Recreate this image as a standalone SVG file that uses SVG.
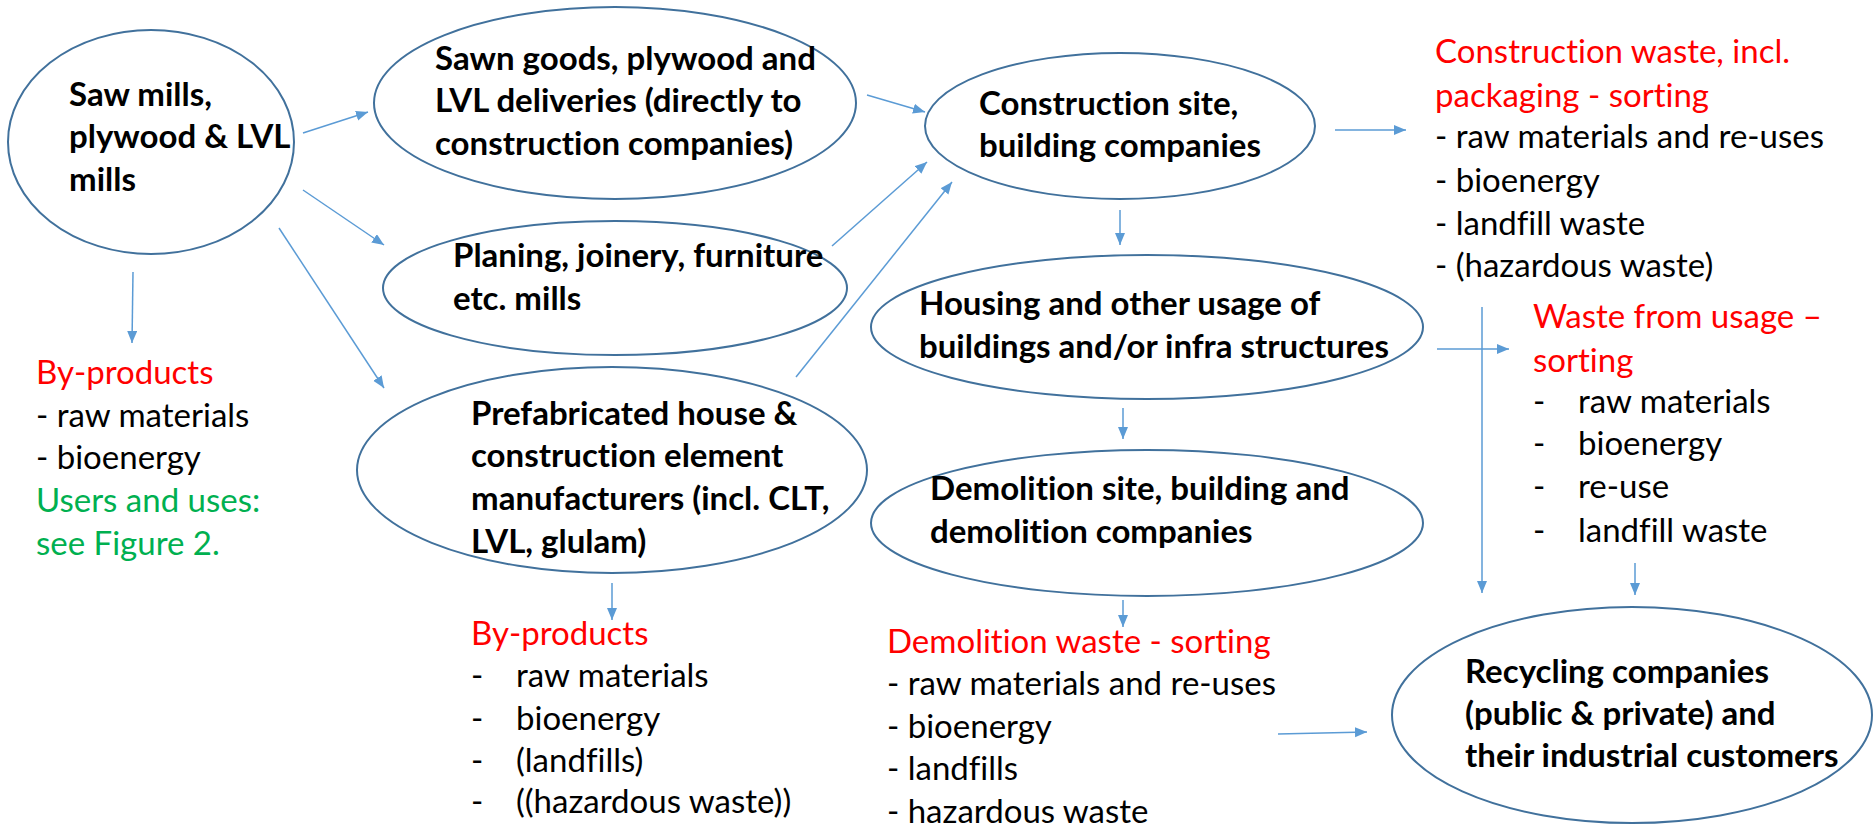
<svg xmlns="http://www.w3.org/2000/svg" width="1874" height="836" viewBox="0 0 1874 836">
<style>
.node{fill:#fff;stroke:#41719C;stroke-width:2}
.b,.t{font-family:Lato,"Open Sans",sans-serif;font-size:33px;fill:#000;font-variant-ligatures:none;font-feature-settings:"liga" 0,"dlig" 0,"clig" 0}
.b{font-weight:bold}
.r{fill:#FF0000}
.g{fill:#00B050}
.c line{stroke:#5B9BD5;stroke-width:1.5;marker-end:url(#ah)}
</style>
<defs>
<marker id="ah" markerUnits="userSpaceOnUse" markerWidth="13" markerHeight="11" refX="12" refY="5" orient="auto">
<path d="M0,0 L12,5 L0,10 z" fill="#5B9BD5"/>
</marker>
</defs>
<rect width="1874" height="836" fill="#fff"/>
<g id="connectors" class="c">
<line x1="303" y1="133" x2="368" y2="112"/>
<line x1="303" y1="190" x2="384" y2="245"/>
<line x1="279" y1="228" x2="384" y2="388"/>
<line x1="133" y1="272" x2="132" y2="343"/>
<line x1="867" y1="95" x2="925" y2="112"/>
<line x1="832" y1="246" x2="927" y2="162"/>
<line x1="796" y1="377" x2="952" y2="182"/>
<line x1="612" y1="583" x2="612" y2="620"/>
<line x1="1120" y1="210" x2="1120" y2="245"/>
<line x1="1335" y1="130" x2="1406" y2="130"/>
<line x1="1123" y1="408" x2="1123" y2="439"/>
<line x1="1123" y1="600" x2="1123" y2="627"/>
<line x1="1437" y1="349" x2="1509" y2="349"/>
<line x1="1482" y1="307" x2="1482" y2="593"/>
<line x1="1635" y1="563" x2="1635" y2="595"/>
<line x1="1278" y1="734" x2="1367" y2="732"/>
</g>
<g id="saw-mills">
<ellipse class="node" cx="151" cy="142" rx="143" ry="112"/>
<text class="b"><tspan x="69" y="106">Saw mills,</tspan><tspan x="69" y="148">plywood &amp; LVL</tspan><tspan x="69" y="191">mills</tspan></text>
</g>
<g id="sawn-goods">
<ellipse class="node" cx="615" cy="103" rx="241" ry="96"/>
<text class="b"><tspan x="435" y="70">Sawn goods, plywood and</tspan><tspan x="435" y="112">LVL deliveries (directly to</tspan><tspan x="435" y="155">construction companies)</tspan></text>
</g>
<g id="planing">
<ellipse class="node" cx="615" cy="288" rx="232" ry="67"/>
<text class="b"><tspan x="453" y="267">Planing, joinery, furniture</tspan><tspan x="453" y="310">etc. mills</tspan></text>
</g>
<g id="prefab">
<ellipse class="node" cx="612" cy="470" rx="255" ry="103"/>
<text class="b"><tspan x="471" y="425">Prefabricated house &amp;</tspan><tspan x="471" y="467">construction element</tspan><tspan x="471" y="510">manufacturers (incl. CLT,</tspan><tspan x="471" y="553">LVL, glulam)</tspan></text>
</g>
<g id="construction-site">
<ellipse class="node" cx="1120" cy="126" rx="195" ry="73"/>
<text class="b"><tspan x="979" y="115">Construction site,</tspan><tspan x="979" y="157">building companies</tspan></text>
</g>
<g id="housing">
<ellipse class="node" cx="1147" cy="327" rx="276" ry="72"/>
<text class="b"><tspan x="919" y="315">Housing and other usage of</tspan><tspan x="919" y="358">buildings and/or infra structures</tspan></text>
</g>
<g id="demolition">
<ellipse class="node" cx="1147" cy="523" rx="276" ry="73"/>
<text class="b"><tspan x="930" y="500">Demolition site, building and</tspan><tspan x="930" y="543">demolition companies</tspan></text>
</g>
<g id="recycling">
<ellipse class="node" cx="1632" cy="715" rx="240" ry="108"/>
<text class="b"><tspan x="1465" y="683">Recycling companies</tspan><tspan x="1465" y="725">(public &amp; private) and</tspan><tspan x="1465" y="767">their industrial customers</tspan></text>
</g>
<g id="byproducts-saw">
<text class="t"><tspan class="r" x="36" y="384">By-products</tspan><tspan x="36" y="427">- raw materials</tspan><tspan x="36" y="469">- bioenergy</tspan><tspan class="g" x="36" y="512">Users and uses:</tspan><tspan class="g" x="36" y="555">see Figure 2.</tspan></text>
</g>
<g id="byproducts-prefab">
<text class="t"><tspan class="r" x="471" y="645">By-products</tspan><tspan x="471" y="687">-</tspan><tspan x="516" y="687">raw materials</tspan><tspan x="471" y="730">-</tspan><tspan x="516" y="730">bioenergy</tspan><tspan x="471" y="772">-</tspan><tspan x="516" y="772">(landfills)</tspan><tspan x="471" y="813">-</tspan><tspan x="516" y="813">((hazardous waste))</tspan></text>
</g>
<g id="construction-waste">
<text class="t"><tspan class="r" x="1435" y="63">Construction waste, incl.</tspan><tspan class="r" x="1435" y="107">packaging - sorting</tspan><tspan x="1435" y="148">- raw materials and re-uses</tspan><tspan x="1435" y="192">- bioenergy</tspan><tspan x="1435" y="235">- landfill waste</tspan><tspan x="1435" y="277">- (hazardous waste)</tspan></text>
</g>
<g id="usage-waste">
<text class="t"><tspan class="r" x="1533" y="328">Waste from usage –</tspan><tspan class="r" x="1533" y="372">sorting</tspan><tspan x="1533" y="413">-</tspan><tspan x="1578" y="413">raw materials</tspan><tspan x="1533" y="455">-</tspan><tspan x="1578" y="455">bioenergy</tspan><tspan x="1533" y="498">-</tspan><tspan x="1578" y="498">re-use</tspan><tspan x="1533" y="542">-</tspan><tspan x="1578" y="542">landfill waste</tspan></text>
</g>
<g id="demolition-waste">
<text class="t"><tspan class="r" x="887" y="653">Demolition waste - sorting</tspan><tspan x="887" y="695">- raw materials and re-uses</tspan><tspan x="887" y="738">- bioenergy</tspan><tspan x="887" y="780">- landfills</tspan><tspan x="887" y="823">- hazardous waste</tspan></text>
</g>
</svg>
